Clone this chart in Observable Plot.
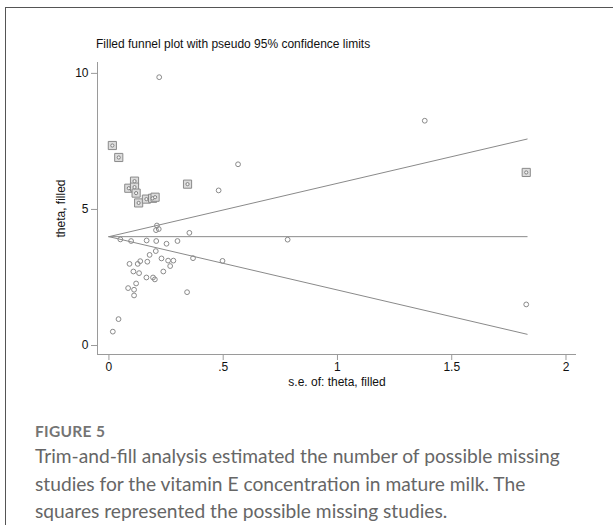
<!DOCTYPE html>
<html>
<head>
<meta charset="utf-8">
<script src="https://cdn.jsdelivr.net/npm/d3@7"></script>
<script src="https://cdn.jsdelivr.net/npm/@observablehq/plot@0.6"></script>
<style>
  html, body { margin: 0; padding: 0; background: #fff; }
  #fig { position: relative; width: 613px; height: 525px; background: #fff; overflow: hidden; }
  #frame { position: absolute; left: 5px; top: 7px; right: -2px; bottom: -2px; border-left: 1.5px solid #555; border-top: 1.5px solid #555; }
  #title { position: absolute; left: 96px; top: 37px; font: 12px "Liberation Sans", Arial, sans-serif; color: #111; white-space: nowrap; }
  #chart { position: absolute; left: 0; top: 0; }
  #cap { position: absolute; left: 35px; top: 422px; font-family: Lato, "Open Sans", sans-serif; color: #666; white-space: nowrap; }
  #cap .fig { font-size: 15.5px; font-weight: 700; color: #747474; letter-spacing: 0.3px; margin-bottom: 2px; }
  #cap .txt { font-size: 19.2px; line-height: 27.5px; }
</style>
</head>
<body>
<div id="fig">
  <div id="frame"></div>
  <div id="chart"></div>
  <div id="title">Filled funnel plot with pseudo 95% confidence limits</div>
  <div id="cap">
    <div class="fig">FIGURE 5</div>
    <div class="txt">Trim-and-fill analysis estimated the number of possible missing<br>studies for the vitamin E concentration in mature milk. The<br>squares represented the possible missing studies.</div>
  </div>
</div>
<script>
// Observed studies (standard error, effect estimate)
const studySE = [0.22, 0.565, 0.48, 1.382, 0.05, 0.097, 0.21, 0.206, 0.218, 0.352, 0.165, 0.207, 0.252, 0.30, 0.205, 0.178, 0.09, 0.126, 0.137, 0.168, 0.23, 0.259, 0.282, 0.268, 0.368, 0.497, 0.107, 0.132, 0.238, 0.164, 0.193, 0.201, 0.119, 0.084, 0.11, 0.11, 0.342, 0.042, 0.017, 0.782, 1.826];
const studyTheta = [9.86, 6.66, 5.70, 8.26, 3.90, 3.84, 4.41, 4.24, 4.28, 4.14, 3.86, 3.84, 3.74, 3.84, 3.47, 3.33, 3.00, 3.00, 3.10, 3.08, 3.20, 3.12, 3.12, 2.92, 3.21, 3.11, 2.72, 2.66, 2.72, 2.50, 2.50, 2.43, 2.28, 2.11, 2.05, 1.84, 1.96, 0.97, 0.51, 3.89, 1.51];
// Filled (imputed) studies
const filledSE = [0.015, 0.043, 0.112, 0.087, 0.112, 0.119, 0.130, 0.164, 0.191, 0.202, 0.344, 1.826];
const filledTheta = [7.35, 6.91, 6.04, 5.78, 5.82, 5.60, 5.24, 5.38, 5.41, 5.45, 5.93, 6.36];
// Pooled estimate and funnel extent
const pooledTheta = 4.0;
const funnelSE = [0, 1.83];
const zCrit = 1.96;
// Axes
const xTicks = [0, 0.5, 1, 1.5, 2];
const xTickLabels = ["0", ".5", "1", "1.5", "2"];
const yTicks = [0, 5, 10];
const xDomain = [-0.05, 2.046];
const yDomain = [-0.33, 10.4];

const studies = studySE.map((se, i) => ({se, theta: studyTheta[i]}));
const filled = filledSE.map((se, i) => ({se, theta: filledTheta[i]}));

const gray = "#8a8a8a";
const chart = Plot.plot({
  width: 613,
  height: 400,
  marginLeft: 97,
  marginRight: 37,
  marginTop: 62,
  marginBottom: 46,
  style: {fontFamily: "'Liberation Sans', Arial, sans-serif", fontSize: "12px", color: "#111", background: "transparent"},
  x: {domain: xDomain},
  y: {domain: yDomain},
  marks: [
    Plot.ruleY([yDomain[0]], {stroke: "#9a9a9a", strokeWidth: 1}),
    Plot.ruleX([xDomain[0]], {stroke: "#9a9a9a", strokeWidth: 1}),
    Plot.axisX({ticks: xTicks, tickFormat: (d) => xTickLabels[xTicks.indexOf(d)], tickSize: 6, tickPadding: 2, stroke: "#9a9a9a", fontSize: 12,
      label: "s.e. of: theta, filled", labelAnchor: "center", labelArrow: "none", labelOffset: 31}),
    Plot.axisY({ticks: yTicks, tickSize: 6, tickPadding: 3, stroke: "#9a9a9a", fontSize: 12,
      label: "theta, filled", labelAnchor: "center", labelArrow: "none", labelOffset: 41}),
    Plot.line(funnelSE, {x: d => d, y: d => pooledTheta + zCrit * d, stroke: gray, strokeWidth: 1}),
    Plot.line(funnelSE, {x: d => d, y: d => pooledTheta - zCrit * d, stroke: gray, strokeWidth: 1}),
    Plot.line(funnelSE, {x: d => d, y: () => pooledTheta, stroke: gray, strokeWidth: 1}),
    Plot.dot(filled, {x: "se", y: "theta", symbol: "square", r: 4.6, stroke: "#8a8a8a", fill: "#dcdcdc", strokeWidth: 1}),
    Plot.dot(filled, {x: "se", y: "theta", r: 1.6, stroke: "#777", fill: "#f4f4f4", strokeWidth: 0.9}),
    Plot.dot(studies, {x: "se", y: "theta", r: 2.4, stroke: gray, fill: "none", strokeWidth: 1})
  ]
});
document.getElementById("chart").appendChild(chart);
</script>
</body>
</html>
